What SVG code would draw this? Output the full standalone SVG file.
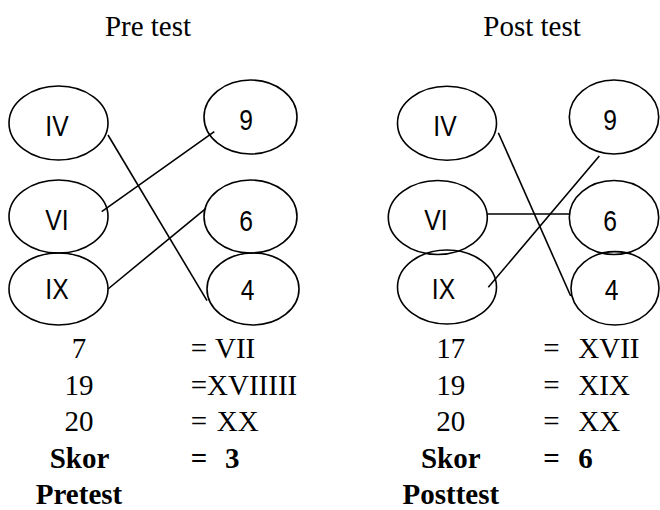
<svg xmlns="http://www.w3.org/2000/svg" width="660" height="510" viewBox="0 0 660 510">
<style>
.e{fill:none;stroke:#000;stroke-width:1.6}
.l{stroke:#000;stroke-width:1.6;fill:none}
.n{font-family:"Liberation Sans",Arial,sans-serif;font-size:29px;text-anchor:middle;fill:#000}
.t{font-family:"Liberation Serif","Times New Roman",serif;font-size:29px;fill:#000}
.c{text-anchor:middle}
.b{font-weight:bold}
</style>
<rect width="660" height="510" fill="#fff"/>
<text class="t c" x="148" y="36">Pre test</text>
<text class="t c" x="532" y="36">Post test</text>

<g id="pre-IV"><ellipse class="e" cx="58.5" cy="123" rx="49.5" ry="37"/><text class="n" transform="translate(57,136) scale(0.85,1)">IV</text></g>
<g id="pre-VI"><ellipse class="e" cx="58.5" cy="216.5" rx="49.5" ry="36.5"/><text class="n" transform="translate(57,230) scale(0.85,1)">VI</text></g>
<g id="pre-IX"><ellipse class="e" cx="58.5" cy="289" rx="49.5" ry="36"/><text class="n" transform="translate(57,299) scale(0.85,1)">IX</text></g>
<g id="pre-9"><ellipse class="e" cx="250.5" cy="117" rx="46.5" ry="37"/><text class="n" transform="translate(246,130) scale(0.85,1)">9</text></g>
<g id="pre-6"><ellipse class="e" cx="250.5" cy="216.5" rx="46.5" ry="36.5"/><text class="n" transform="translate(246,231) scale(0.85,1)">6</text></g>
<g id="pre-4"><ellipse class="e" cx="253" cy="289" rx="46" ry="36"/><text class="n" transform="translate(247.5,300) scale(0.85,1)">4</text></g>

<g id="post-IV"><ellipse class="e" cx="447" cy="123.3" rx="49.5" ry="37"/><text class="n" transform="translate(445,136) scale(0.85,1)">IV</text></g>
<g id="post-VI"><ellipse class="e" cx="437.8" cy="217.5" rx="49.5" ry="37"/><text class="n" transform="translate(436,230) scale(0.85,1)">VI</text></g>
<g id="post-IX"><ellipse class="e" cx="447" cy="287" rx="49.5" ry="37"/><text class="n" transform="translate(443.5,299) scale(0.85,1)">IX</text></g>
<g id="post-9"><ellipse class="e" cx="614" cy="117" rx="44.7" ry="37"/><text class="n" transform="translate(610,130) scale(0.85,1)">9</text></g>
<g id="post-6"><ellipse class="e" cx="614" cy="217.5" rx="44.7" ry="37"/><text class="n" transform="translate(610,231) scale(0.85,1)">6</text></g>
<g id="post-4"><ellipse class="e" cx="615" cy="288.3" rx="44" ry="36.7"/><text class="n" transform="translate(611.5,300) scale(0.85,1)">4</text></g>

<g id="connectors">
<line class="l" x1="108" y1="135" x2="207" y2="300.7"/>
<line class="l" x1="101.7" y1="211.7" x2="214.3" y2="131.7"/>
<line class="l" x1="108" y1="289" x2="206" y2="208.3"/>
<line class="l" x1="498.3" y1="132.7" x2="570.7" y2="296"/>
<line class="l" x1="488.3" y1="287.3" x2="599.3" y2="156"/>
<line class="l" x1="487.3" y1="214" x2="569.3" y2="214"/>
</g>

<g id="pre-results">
<text class="t c" x="79" y="358">7</text>
<text class="t" x="190.7" y="358">=</text><text class="t" x="215" y="358">VII</text>
<text class="t c" x="79" y="395">19</text>
<text class="t" x="190.7" y="395">=XVIIIII</text>
<text class="t c" x="79" y="431">20</text>
<text class="t" x="190.7" y="431">=</text><text class="t" x="216.7" y="431">XX</text>
<text class="t c b" x="79.5" y="468">Skor</text>
<text class="t b" x="190.7" y="468">=</text><text class="t b" x="225" y="468">3</text>
<text class="t c b" x="79" y="504">Pretest</text>
</g>
<g id="post-results">
<text class="t c" x="450.7" y="358">17</text>
<text class="t" x="543.3" y="358">=</text><text class="t" x="578.3" y="358">XVII</text>
<text class="t c" x="450.7" y="395">19</text>
<text class="t" x="543.3" y="395">=</text><text class="t" x="578.3" y="395">XIX</text>
<text class="t c" x="450.7" y="431">20</text>
<text class="t" x="543.3" y="431">=</text><text class="t" x="578.3" y="431">XX</text>
<text class="t c b" x="450.7" y="468">Skor</text>
<text class="t b" x="543.3" y="468">=</text><text class="t b" x="578.3" y="468">6</text>
<text class="t c b" x="450.8" y="504">Posttest</text>
</g>
</svg>
